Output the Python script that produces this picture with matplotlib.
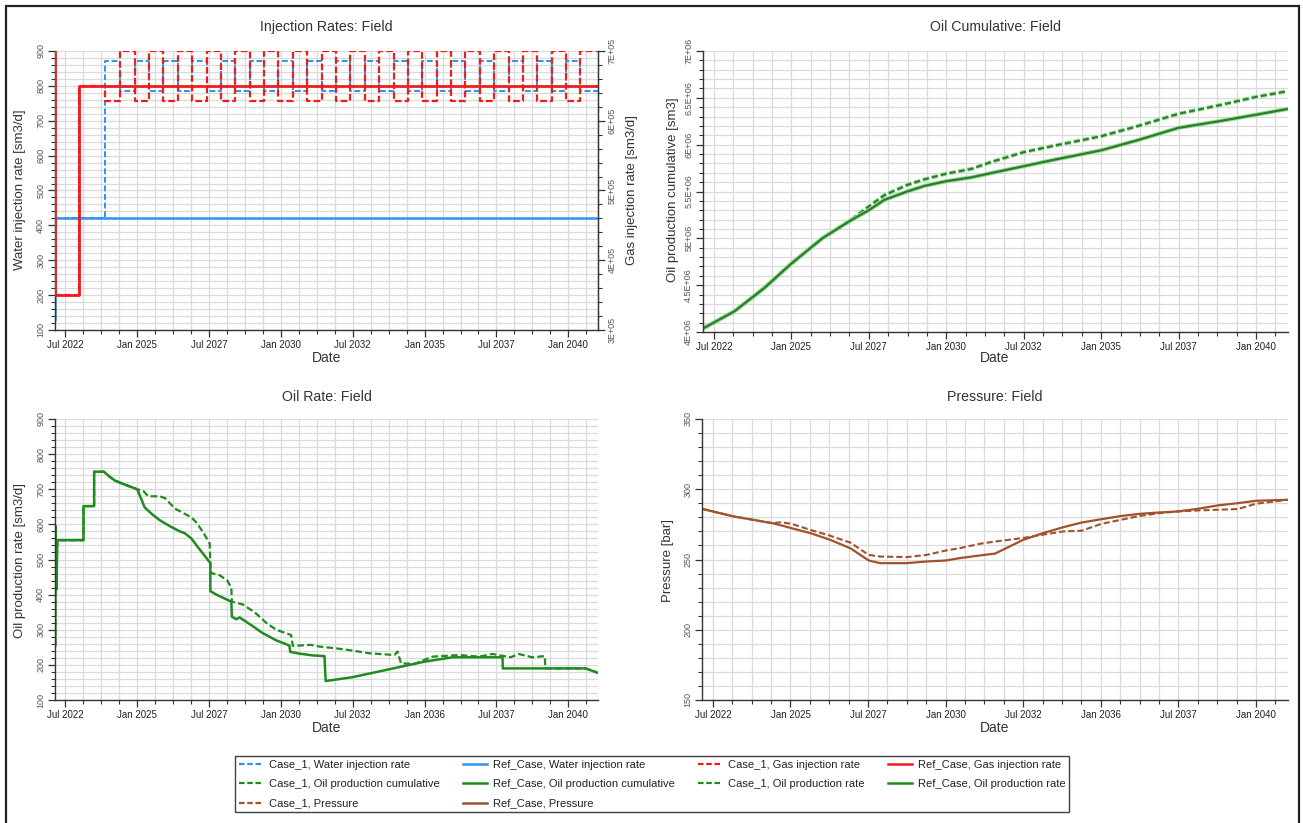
import matplotlib
matplotlib.use('Agg')
import matplotlib.pyplot as plt
import matplotlib.patheffects as pe
from matplotlib.ticker import MultipleLocator, FixedLocator
from matplotlib.lines import Line2D
from matplotlib.patches import Rectangle

plt.rcParams['font.family'] = ['Liberation Sans', 'DejaVu Sans']

# ---------------- DATA ----------------
# x values are decimal years
xtick_pos = [2022.5, 2025.0, 2027.5, 2030.0, 2032.5, 2035.0, 2037.5, 2040.0]
xtick_labels_top = ['Jul 2022', 'Jan 2025', 'Jul 2027', 'Jan 2030', 'Jul 2032', 'Jan 2035', 'Jul 2037', 'Jan 2040']
xtick_labels_bottom = ['Jul 2022', 'Jan 2025', 'Jul 2027', 'Jan 2030', 'Jul 2032', 'Jan 2036', 'Jul 2037', 'Jan 2040']

# Injection rates (step data)
ref_water_t = [2022.13, 2022.16, 2041.05]
ref_water_v = [130, 420, 420]
case_water_t = [2022.13, 2022.16, 2023.90, 2024.42, 2024.92, 2025.42, 2025.92, 2026.42, 2026.92,
                2027.42, 2027.92, 2028.42, 2028.92, 2029.42, 2029.92, 2030.42, 2030.92, 2031.42,
                2031.92, 2032.42, 2032.92, 2033.42, 2033.92, 2034.42, 2034.92, 2035.42, 2035.92,
                2036.42, 2036.92, 2037.42, 2037.92, 2038.42, 2038.92, 2039.42, 2039.92, 2040.42, 2041.05]
case_water_v = [130, 420, 870, 785, 870, 785, 870, 785, 870,
                785, 870, 785, 870, 785, 870, 785, 870, 785,
                870, 785, 870, 785, 870, 785, 870, 785, 870,
                785, 870, 785, 870, 785, 870, 785, 870, 785, 785]
ref_gas_t = [2022.13, 2022.16, 2023.00, 2041.05]
ref_gas_v = [7.0e5, 3.5e5, 6.5e5, 6.5e5]
case_gas_t = [2022.13, 2022.16, 2023.00, 2023.90, 2024.42, 2024.92, 2025.42, 2025.92, 2026.42, 2026.92,
              2027.42, 2027.92, 2028.42, 2028.92, 2029.42, 2029.92, 2030.42, 2030.92, 2031.42,
              2031.92, 2032.42, 2032.92, 2033.42, 2033.92, 2034.42, 2034.92, 2035.42, 2035.92,
              2036.42, 2036.92, 2037.42, 2037.92, 2038.42, 2038.92, 2039.42, 2039.92, 2040.42, 2041.05]
case_gas_v = [7.0e5, 3.5e5, 6.5e5, 6.28e5, 7.0e5, 6.28e5, 7.0e5, 6.28e5, 7.0e5, 6.28e5,
              7.0e5, 6.28e5, 7.0e5, 6.28e5, 7.0e5, 6.28e5, 7.0e5, 6.28e5, 7.0e5,
              6.28e5, 7.0e5, 6.28e5, 7.0e5, 6.28e5, 7.0e5, 6.28e5, 7.0e5, 6.28e5,
              7.0e5, 6.28e5, 7.0e5, 6.28e5, 7.0e5, 6.28e5, 7.0e5, 6.28e5, 7.0e5, 7.0e5]

# Oil cumulative
cum_t = [2022.19, 2023.16, 2024.13, 2025.0, 2026.0, 2026.86, 2027.5, 2028.0, 2028.74, 2029.3,
         2030.0, 2030.8, 2031.5, 2032.5, 2033.5, 2035.0, 2036.2, 2037.5, 2038.8, 2040.0, 2041.0]
ref_cum = [4.045e6, 4.22e6, 4.47e6, 4.73e6, 5.00e6, 5.18e6, 5.30e6, 5.41e6, 5.50e6, 5.56e6,
           5.61e6, 5.65e6, 5.70e6, 5.77e6, 5.84e6, 5.94e6, 6.05e6, 6.18e6, 6.25e6, 6.32e6, 6.38e6]
case_cum = [4.045e6, 4.22e6, 4.47e6, 4.73e6, 5.00e6, 5.18e6, 5.34e6, 5.46e6, 5.57e6, 5.63e6,
            5.69e6, 5.74e6, 5.82e6, 5.92e6, 5.99e6, 6.09e6, 6.20e6, 6.33e6, 6.42e6, 6.51e6, 6.57e6]

# Oil rate
ref_rate_t = [2022.16, 2022.17, 2022.20, 2022.23, 2023.14, 2023.14, 2023.51, 2023.51, 2023.85, 2024.06,
              2024.23, 2024.52, 2025.01, 2025.16, 2025.27, 2025.51, 2025.79, 2026.14, 2026.49, 2026.66,
              2026.89, 2027.12, 2027.36, 2027.55, 2027.55, 2027.76, 2028.28, 2028.30, 2028.45, 2028.57,
              2029.03, 2029.38, 2029.84, 2030.30, 2030.33, 2030.65, 2031.11, 2031.52, 2031.56, 2032.47,
              2033.66, 2034.99, 2035.97, 2037.71, 2037.72, 2040.60, 2041.00]
ref_rate_v = [255, 595, 415, 555, 555, 652, 652, 750, 750, 735,
              725, 715, 700, 670, 648, 630, 612, 595, 580, 575,
              560, 535, 510, 490, 410, 400, 380, 337, 330, 335,
              310, 290, 270, 255, 237, 232, 227, 225, 154, 164.6,
              185.5, 209, 221.6, 221.6, 190, 190, 178]
case_rate_t = [2022.16, 2022.17, 2022.20, 2022.23, 2023.14, 2023.14, 2023.51, 2023.51, 2023.85, 2024.06,
               2024.23, 2024.52, 2025.01, 2025.22, 2025.39, 2025.79, 2025.97, 2026.32, 2026.55, 2026.89,
               2027.07, 2027.32, 2027.53, 2027.56, 2027.88, 2028.14, 2028.28, 2028.30, 2028.68, 2029.09,
               2029.49, 2029.84, 2030.19, 2030.36, 2030.42, 2031.05, 2031.35, 2031.93, 2032.47, 2033.08,
               2033.95, 2034.06, 2034.18, 2034.64, 2035.28, 2036.20, 2036.90, 2037.36, 2037.99, 2038.28,
               2038.74, 2039.18, 2039.20, 2040.60, 2041.00]
case_rate_v = [255, 595, 415, 555, 555, 652, 652, 750, 750, 735,
               725, 715, 700, 695, 680, 680, 675, 645, 635, 620,
               605, 575, 545, 462, 455, 440, 420, 380, 372, 350,
               320, 300, 290, 285, 254, 257, 252, 247, 241, 233,
               228, 238, 204.5, 202.6, 223.5, 228, 223.5, 231, 221.6, 231,
               221.6, 225, 190, 190, 178]

# Pressure
p_t = [2022.18, 2023.18, 2024.41, 2024.70, 2025.03, 2025.64, 2026.28, 2026.93, 2027.52, 2027.89,
       2028.75, 2029.39, 2030.01, 2030.46, 2031.11, 2031.59, 2032.50, 2033.14, 2033.79, 2034.38,
       2035.02, 2035.66, 2036.25, 2036.90, 2037.48, 2038.13, 2038.77, 2039.41, 2040.00, 2041.02]
ref_p = [285.9, 280.6, 275.9, 274.3, 272.3, 268.8, 264.0, 258.0, 249.3, 247.4,
         247.4, 248.6, 249.3, 251.0, 252.9, 254.2, 264.0, 268.8, 273.0, 276.3,
         278.7, 281.0, 282.5, 283.5, 284.2, 286.1, 288.5, 290.1, 291.8, 292.5]
case_p = [285.9, 280.6, 275.9, 276.5, 275.4, 271.1, 266.9, 262.0, 253.3, 252.1,
          251.7, 253.3, 256.4, 258.1, 261.2, 262.8, 265.3, 267.7, 270.0, 270.5,
          275.4, 278.3, 281.0, 283.0, 284.2, 284.9, 285.4, 285.9, 289.7, 292.5]

# ---------------- STYLE ----------------
W, H = 1303, 823
fig = plt.figure(figsize=(W / 100, H / 100), dpi=100)
fig.patch.set_facecolor('white')

BLUE = '#2f93f0'
RED = '#f01c1c'
GREEN = '#1e8c1e'
GREEN_TR = '#2f7a2f'
BROWN = '#a0522d'
GRID = '#dadada'
DASH = (3.0, 1.4)
XMIN, XMAX = 2022.15, 2041.03


def px_axes(l, t, r, b):
    return fig.add_axes([l / W, 1 - b / H, (r - l) / W, (b - t) / H])


def rotate_y(ax):
    for lab in ax.get_yticklabels():
        lab.set_rotation(90)
        lab.set_va('center')


def style_axes(ax, xlabels, ymin, ymax, ymaj, ymin_step, right_visible=False):
    ax.set_xlim(XMIN, XMAX)
    ax.set_ylim(ymin, ymax)
    ax.xaxis.set_major_locator(FixedLocator(xtick_pos))
    ax.set_xticklabels(xlabels)
    ax.xaxis.set_minor_locator(MultipleLocator(0.625))
    ax.yaxis.set_major_locator(MultipleLocator(ymaj))
    ax.yaxis.set_minor_locator(MultipleLocator(ymin_step))
    ax.grid(which='both', color=GRID, lw=0.9)
    ax.set_axisbelow(True)
    ax.spines['top'].set_visible(False)
    ax.spines['right'].set_visible(right_visible)
    for s in ['left', 'bottom', 'right']:
        ax.spines[s].set_color('#333333')
        ax.spines[s].set_linewidth(1.0)
    ax.tick_params(axis='both', which='major', direction='out', length=5, width=0.9, color='#333333')
    ax.tick_params(axis='both', which='minor', direction='out', length=3, width=0.8, color='#333333')
    ax.tick_params(axis='x', labelsize=7.0, labelcolor='#222222', pad=2)
    ax.tick_params(axis='y', labelsize=6.5, labelcolor='#555555', pad=2)
    rotate_y(ax)


# ---------- Top-left: Injection rates ----------
ax1 = px_axes(55, 51, 598, 330)
ax1.step(case_water_t, case_water_v, where='post', color=BLUE, lw=1.4, dashes=DASH)
ax1.step(ref_water_t, ref_water_v, where='post', color=BLUE, lw=1.8)
style_axes(ax1, xtick_labels_top, 100, 900, 100, 20, right_visible=True)
ax1b = ax1.twinx()
ax1b.step(case_gas_t, case_gas_v, where='post', color=RED, lw=1.6, dashes=DASH)
ax1b.step(ref_gas_t, ref_gas_v, where='post', color=RED, lw=2.0)
ax1b.set_ylim(3e5, 7e5)
ax1b.set_xlim(XMIN, XMAX)
ax1b.yaxis.set_major_locator(FixedLocator([3e5, 4e5, 5e5, 6e5, 7e5]))
ax1b.set_yticklabels(['3E+05', '4E+05', '5E+05', '6E+05', '7E+05'])
ax1b.yaxis.set_minor_locator(MultipleLocator(2e4))
for s in ['top', 'left', 'bottom']:
    ax1b.spines[s].set_visible(False)
ax1b.spines['right'].set_color('#333333')
ax1b.tick_params(axis='y', which='major', direction='out', length=5, width=0.9, color='#333333',
                 labelsize=6.5, labelcolor='#555555', pad=2)
ax1b.tick_params(axis='y', which='minor', direction='out', length=3, width=0.8, color='#333333')
rotate_y(ax1b)

# ---------- Top-right: Oil cumulative ----------
ax2 = px_axes(703, 51, 1288, 332)
halo = [pe.Stroke(linewidth=3.0, foreground='#8fe08f'), pe.Normal()]
ax2.plot(cum_t, case_cum, color=GREEN_TR, lw=1.5, dashes=DASH, path_effects=halo)
ax2.plot(cum_t, ref_cum, color=GREEN_TR, lw=1.6, path_effects=halo)
style_axes(ax2, xtick_labels_top, 4e6, 7e6, 5e5, 1e5)
ax2.yaxis.set_major_locator(FixedLocator([4e6, 4.5e6, 5e6, 5.5e6, 6e6, 6.5e6, 7e6]))
ax2.set_yticklabels(['4E+06', '4.5E+06', '5E+06', '5.5E+06', '6E+06', '6.5E+06', '7E+06'])
rotate_y(ax2)

# ---------- Bottom-left: Oil rate ----------
ax3 = px_axes(55, 419, 598, 700)
ax3.plot(case_rate_t, case_rate_v, color=GREEN, lw=1.6, dashes=DASH)
ax3.plot(ref_rate_t, ref_rate_v, color=GREEN, lw=1.8)
style_axes(ax3, xtick_labels_bottom, 100, 900, 100, 20)

# ---------- Bottom-right: Pressure ----------
ax4 = px_axes(702, 419, 1288, 700)
ax4.plot(p_t, case_p, color=BROWN, lw=1.5, dashes=DASH)
ax4.plot(p_t, ref_p, color=BROWN, lw=1.6)
style_axes(ax4, xtick_labels_bottom, 150, 350, 50, 10)

# ---------- Texts ----------
tcol = '#333333'
for xc, yc, s in [(326.5, 27, 'Injection Rates: Field'), (995, 27, 'Oil Cumulative: Field'),
                  (326.5, 397, 'Oil Rate: Field'), (995, 397, 'Pressure: Field')]:
    fig.text(xc / W, 1 - yc / H, s, ha='center', va='center', fontsize=10.2, color=tcol)
for xc, yc in [(326.5, 358), (995, 358), (326.5, 728), (995, 728)]:
    fig.text(xc / W, 1 - yc / H, 'Date', ha='center', va='center', fontsize=10, color=tcol)
for xc, yc, s in [(20, 190, 'Water injection rate [sm3/d]'), (632, 190, 'Gas injection rate [sm3/d]'),
                  (673, 190, 'Oil production cumulative [sm3]'), (20, 560, 'Oil production rate [sm3/d]'),
                  (668, 560, 'Pressure [bar]')]:
    fig.text(xc / W, 1 - yc / H, s, rotation=90, ha='center', va='center', fontsize=9.5, color=tcol)

# ---------- Legend ----------
entries = [
    ('Case_1, Water injection rate', BLUE, True),
    ('Case_1, Oil production cumulative', GREEN, True),
    ('Case_1, Pressure', BROWN, True),
    ('Ref_Case, Water injection rate', BLUE, False),
    ('Ref_Case, Oil production cumulative', GREEN, False),
    ('Ref_Case, Pressure', BROWN, False),
    ('Case_1, Gas injection rate', RED, True),
    ('Case_1, Oil production rate', GREEN, True),
    ('Ref_Case, Gas injection rate', RED, False),
    ('Ref_Case, Oil production rate', GREEN, False),
]
handles = []
labels = []
for lab, col, dashed in entries:
    if dashed:
        handles.append(Line2D([], [], color=col, lw=1.6, dashes=(2.5, 1.2)))
    else:
        handles.append(Line2D([], [], color=col, lw=1.8))
    labels.append(lab)
leg = fig.legend(handles, labels, ncol=4, loc='upper left',
                 bbox_to_anchor=(235 / W, 1 - 756 / H), borderaxespad=0,
                 fontsize=8.0, frameon=True, fancybox=False, edgecolor='#111111',
                 handlelength=2.15, handletextpad=0.55, columnspacing=2.1,
                 labelspacing=0.85, borderpad=0.32)
leg.get_frame().set_linewidth(1.0)
for t in leg.get_texts():
    t.set_color('#222222')

# ---------- Outer frame ----------
fig.patches.append(Rectangle((6 / W, -0.05), (1299 - 6) / W, 1 - 6 / H + 0.05,
                             transform=fig.transFigure, fill=False, lw=1.6, edgecolor='#222222'))

fig.savefig('out.png', dpi=100)
